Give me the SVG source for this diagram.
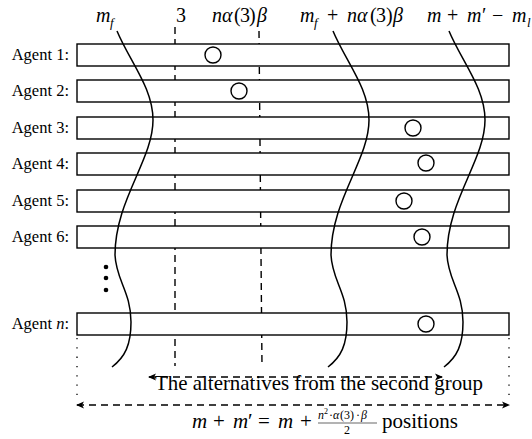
<svg xmlns="http://www.w3.org/2000/svg" width="532" height="439" viewBox="0 0 532 439">
<style>
  .lbl { font-family: "Liberation Serif", serif; font-size: 16.5px; fill: #000; }
  .math { font-family: "Liberation Serif", serif; font-size: 20px; fill: #000; }
  .it { font-style: italic; }
  .sub { font-size: 13px; font-style: italic; }
  .big { font-family: "Liberation Serif", serif; font-size: 21px; fill: #000; }
  .row { fill: #fff; stroke: #000; stroke-width: 1.4; }
  .ball { fill: none; stroke: #000; stroke-width: 1.4; }
  .wave { fill: none; stroke: #000; stroke-width: 1.5; }
  .vdash { stroke: #000; stroke-width: 1.4; stroke-dasharray: 7 5; fill: none; }
  .hdash { stroke: #000; stroke-width: 1.4; stroke-dasharray: 7 5; fill: none; marker-start: url(#ah); marker-end: url(#ah); }
  .dot { stroke: #000; stroke-width: 1.3; stroke-dasharray: 1.3 8; fill: none; }
</style>
<defs>
  <marker id="ah" viewBox="0 0 8 8" refX="7" refY="4" markerWidth="8" markerHeight="8" markerUnits="userSpaceOnUse" orient="auto-start-reverse">
    <path d="M0,0.5 L8,4 L0,7.5 L2,4 z" fill="#000"/>
  </marker>
  <path id="wv" d="M117,31 C130,62 153,88 153,120 C153,160 115,200 115,255 C116,280 131,292 131,322 C131,345 125,357 112,367"/>
</defs>

<g id="top-labels">
  <text class="math"><tspan class="it" x="96" y="22">m</tspan><tspan class="sub" x="110" y="27">f</tspan></text>
  <text class="math" x="176" y="22">3</text>
  <text class="math" y="22"><tspan class="it" x="212">n</tspan><tspan class="it" x="222">α</tspan><tspan x="234">(</tspan><tspan x="240">3</tspan><tspan x="249">)</tspan><tspan class="it" x="257">β</tspan></text>
  <text class="math" y="22"><tspan class="it" x="300">m</tspan><tspan class="sub" x="314" y="27">f</tspan><tspan x="327" y="22">+</tspan><tspan class="it" x="347">n</tspan><tspan class="it" x="357">α</tspan><tspan x="370">(</tspan><tspan x="376">3</tspan><tspan x="386">)</tspan><tspan class="it" x="393">β</tspan></text>
  <text class="math" y="22"><tspan class="it" x="427">m</tspan><tspan x="447">+</tspan><tspan class="it" x="467">m</tspan><tspan x="482">′</tspan><tspan x="492">−</tspan><tspan class="it" x="512">m</tspan><tspan class="sub" x="527" y="27">l</tspan></text>
</g>

<g id="guides">
  <line class="vdash" x1="175" y1="27" x2="175" y2="366"/>
  <line class="vdash" x1="259" y1="31" x2="262" y2="367"/>
</g>

<g id="agent-1"><text class="lbl" x="69" y="60" text-anchor="end">Agent 1:</text><rect class="row" x="77" y="44" width="432" height="22"/><circle class="ball" cx="213" cy="55" r="8"/></g>
<g id="agent-2"><text class="lbl" x="69" y="96" text-anchor="end">Agent 2:</text><rect class="row" x="77" y="80" width="432" height="22"/><circle class="ball" cx="239" cy="91" r="8"/></g>
<g id="agent-3"><text class="lbl" x="69" y="133" text-anchor="end">Agent 3:</text><rect class="row" x="77" y="117" width="432" height="22"/><circle class="ball" cx="413" cy="128" r="8"/></g>
<g id="agent-4"><text class="lbl" x="69" y="169" text-anchor="end">Agent 4:</text><rect class="row" x="77" y="153" width="432" height="22"/><circle class="ball" cx="426" cy="163" r="8"/></g>
<g id="agent-5"><text class="lbl" x="69" y="206" text-anchor="end">Agent 5:</text><rect class="row" x="77" y="190" width="432" height="22"/><circle class="ball" cx="404" cy="201" r="8"/></g>
<g id="agent-6"><text class="lbl" x="69" y="242" text-anchor="end">Agent 6:</text><rect class="row" x="77" y="226" width="432" height="22"/><circle class="ball" cx="422" cy="237" r="8"/></g>
<g id="vdots"><circle cx="106" cy="267" r="2.3"/><circle cx="106" cy="278" r="2.3"/><circle cx="106" cy="290" r="2.3"/></g>
<g id="agent-n"><text class="lbl" x="69" y="329" text-anchor="end">Agent <tspan class="it">n</tspan>:</text><rect class="row" x="77" y="313" width="432" height="22"/><circle class="ball" cx="426" cy="324" r="8"/></g>

<g id="boundaries">
  <use href="#wv" class="wave"/>
  <use href="#wv" class="wave" x="216"/>
  <use href="#wv" class="wave" x="332"/>
</g>

<g id="connectors">
  <line class="dot" x1="77" y1="338" x2="77" y2="396"/>
  <line class="dot" x1="509" y1="338" x2="509" y2="396"/>
  <line class="hdash" x1="149" y1="377" x2="442" y2="377"/>
  <line class="hdash" x1="77" y1="405" x2="509" y2="405"/>
</g>

<g id="bottom-labels">
  <text class="big" x="155" y="390" textLength="328" lengthAdjust="spacingAndGlyphs">The alternatives from the second group</text>
  <text class="big" y="428"><tspan class="it" x="192">m</tspan><tspan x="213">+</tspan><tspan class="it" x="233">m</tspan><tspan x="248">′</tspan><tspan x="258">=</tspan><tspan class="it" x="278">m</tspan><tspan x="300">+</tspan></text>
  <text class="lbl" style="font-size:12px" y="419"><tspan class="it" x="318">n</tspan><tspan style="font-size:8px" x="324" y="414">2</tspan><tspan x="329" y="419">·</tspan><tspan class="it" x="333">α</tspan><tspan x="340">(3)</tspan><tspan x="356">·</tspan><tspan class="it" x="361">β</tspan></text>
  <line x1="318" y1="423" x2="377" y2="423" stroke="#000" stroke-width="0.6"/>
  <text class="lbl" style="font-size:12px" x="344" y="434">2</text>
  <text class="big" x="382" y="428">positions</text>
</g>
</svg>
